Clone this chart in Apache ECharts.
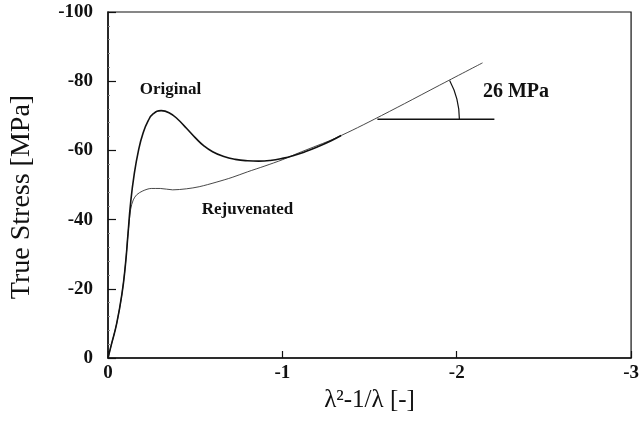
<!DOCTYPE html>
<html>
<head>
<meta charset="utf-8">
<script src="https://cdn.jsdelivr.net/npm/echarts@6/dist/echarts.min.js"></script>
<style>html,body{margin:0;padding:0;background:#fff}#c{width:642px;height:422px}</style>
</head>
<body>
<div id="c"></div>
<script>
// Original (aged) curve: [strain measure, true stress]
var originalX = [0, -0.02, -0.05, -0.08, -0.1, -0.115, -0.13, -0.15, -0.175, -0.2, -0.23, -0.26, -0.305, -0.35, -0.4, -0.45, -0.5, -0.55, -0.6, -0.66, -0.73, -0.8, -0.864, -0.93, -1.0, -1.07, -1.13, -1.2, -1.28, -1.337];
var originalY = [0, -4, -10, -18.5, -27, -36, -45, -53, -60, -64.8, -68.5, -70.6, -71.5, -70.9, -69.0, -66.4, -63.7, -61.3, -59.6, -58.3, -57.4, -57.0, -56.9, -57.1, -57.7, -58.6, -59.6, -61, -62.8, -64.3];
// Rejuvenated curve, ending along the 26 MPa strain-hardening line
var rejuvX = [0, -0.02, -0.05, -0.08, -0.1, -0.115, -0.13, -0.145, -0.165, -0.2, -0.248, -0.3, -0.371, -0.45, -0.523, -0.62, -0.712, -0.8, -0.9, -1.0, -1.09, -1.18, -1.28, -1.4, -1.527, -1.7, -1.9, -2.148];
var rejuvY = [0, -4, -10, -18.5, -27, -36, -43, -45.7, -47.2, -48.3, -49, -49, -48.6, -48.9, -49.5, -50.8, -52.2, -53.8, -55.5, -57.3, -59.2, -61, -63, -65.8, -69, -73.5, -78.8, -85.3];
// Horizontal reference line for the slope annotation
var refX = [-1.545, -2.216];
var refY = [-69, -69];
var xTicks = [0, -1, -2, -3];
var yTicks = [0, -20, -40, -60, -80, -100];

function pairs(xs, ys) { return xs.map(function (x, i) { return [x, ys[i]]; }); }

var chart = echarts.init(document.getElementById('c'), null, {renderer: 'canvas'});
var serif = '"Liberation Serif", "DejaVu Serif", serif';
chart.setOption({
  animation: false,
  backgroundColor: '#fff',
  grid: {left: 108, right: 6, top: 12, bottom: 64, show: true, borderColor: '#111', borderWidth: 1.2},
  xAxis: {
    type: 'value', min: -3, max: 0, interval: 1, inverse: true,
    name: 'λ²-1/λ [-]', nameLocation: 'middle', nameGap: 30,
    nameTextStyle: {fontFamily: serif, fontSize: 25, color: '#111'},
    axisLine: {show: true, lineStyle: {color: '#111', width: 1.5}},
    axisTick: {show: true, inside: true, length: 7, lineStyle: {color: '#111', width: 1.2}},
    axisLabel: {fontFamily: serif, fontWeight: 'bold', fontSize: 19, color: '#111', margin: 6,
      formatter: function (v) { return xTicks.indexOf(v) >= 0 ? String(v) : ''; }},
    splitLine: {show: false}
  },
  yAxis: {
    type: 'value', min: -100, max: 0, interval: 20, inverse: true,
    name: 'True Stress [MPa]', nameLocation: 'middle', nameGap: 72, nameRotate: 90,
    nameTextStyle: {fontFamily: serif, fontSize: 28, color: '#111', padding: [0, 24, 0, 0]},
    axisLine: {show: true, lineStyle: {color: '#111', width: 1.5}},
    axisTick: {show: true, inside: true, length: 8, lineStyle: {color: '#111', width: 1.2}},
    minorTick: {show: true, splitNumber: 5, length: 2, lineStyle: {color: '#888', width: 1}},
    axisLabel: {fontFamily: serif, fontWeight: 'bold', fontSize: 19, color: '#111', margin: 15,
      formatter: function (v) { return yTicks.indexOf(v) >= 0 ? String(v) : ''; }},
    splitLine: {show: false}
  },
  series: [
    {type: 'line', name: 'Original', data: pairs(originalX, originalY), smooth: 0.5, symbol: 'none',
      lineStyle: {color: '#111', width: 1.6}, z: 3},
    {type: 'line', name: 'Rejuvenated', data: pairs(rejuvX, rejuvY), smooth: 0.3, symbol: 'none',
      lineStyle: {color: '#333', width: 0.9}, z: 2},
    {type: 'line', name: 'ref', data: pairs(refX, refY), symbol: 'none',
      lineStyle: {color: '#111', width: 1.6}, z: 2}
  ]
});

function drawAnnotations() {
  var c = chart.convertToPixel({gridIndex: 0}, [refX[0], refY[0]]);
  var tip = chart.convertToPixel({gridIndex: 0}, [rejuvX[rejuvX.length - 1], rejuvY[rejuvY.length - 1]]);
  var ang = Math.atan2(tip[1] - c[1], tip[0] - c[0]);
  var orig = chart.convertToPixel({gridIndex: 0}, [-0.358, -77.5]);
  var rej = chart.convertToPixel({gridIndex: 0}, [-0.8, -42.8]);
  var mpa = chart.convertToPixel({gridIndex: 0}, [-2.34, -76.9]);
  chart.setOption({
    graphic: [
      {type: 'arc', shape: {cx: c[0], cy: c[1], r: 82, startAngle: ang, endAngle: 0, clockwise: true},
        style: {stroke: '#111', lineWidth: 1.2, fill: null}, z: 10},
      {type: 'text', x: orig[0], y: orig[1], style: {text: 'Original', font: 'bold 17px ' + serif, fill: '#111', align: 'center', verticalAlign: 'middle'}},
      {type: 'text', x: rej[0], y: rej[1], style: {text: 'Rejuvenated', font: 'bold 17px ' + serif, fill: '#111', align: 'center', verticalAlign: 'middle'}},
      {type: 'text', x: mpa[0], y: mpa[1], style: {text: '26 MPa', font: 'bold 20px ' + serif, fill: '#111', align: 'center', verticalAlign: 'middle'}}
    ]
  });
}
drawAnnotations();
</script>
</body>
</html>
